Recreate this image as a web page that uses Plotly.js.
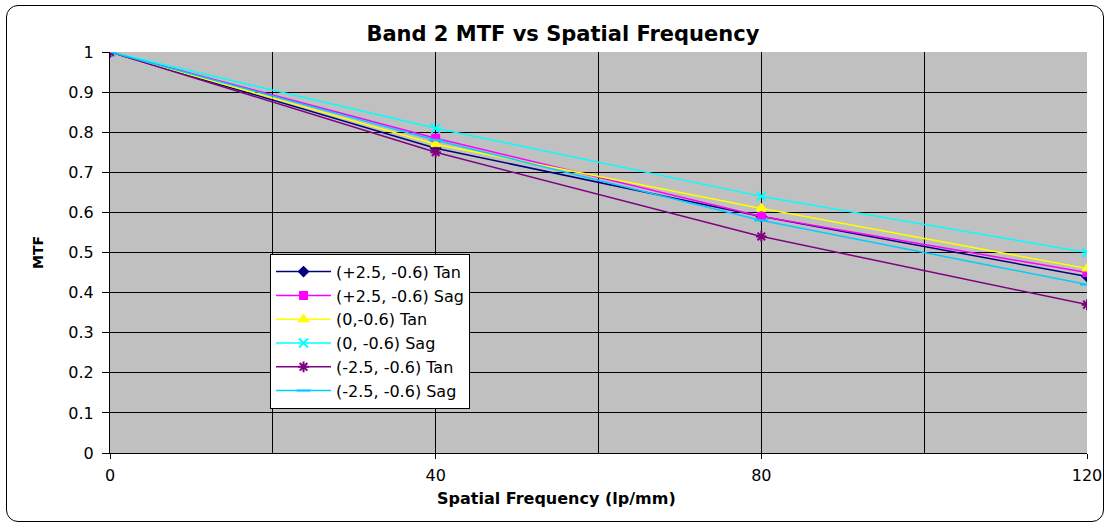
<!DOCTYPE html>
<html>
<head>
<meta charset="utf-8">
<script src="https://cdn.plot.ly/plotly-3.0.1.min.js"></script>
<style>
html,body{margin:0;padding:0;background:#fff;}
#wrap{position:relative;width:1108px;height:527px;}
#frame{position:absolute;left:6px;top:5px;width:1096px;height:515px;border:1px solid #000;border-radius:12px;pointer-events:none;z-index:5;}
#chart{position:absolute;left:0;top:0;width:1108px;height:527px;}
</style>
</head>
<body>
<div id="wrap"><div id="chart"></div><div id="frame"></div></div>
<script>
var freq = [0, 40, 80, 120];
var seriesNames = ["(+2.5, -0.6) Tan", "(+2.5, -0.6) Sag", "(0,-0.6) Tan", "(0, -0.6) Sag", "(-2.5, -0.6) Tan", "(-2.5, -0.6) Sag"];
var tanP25 = [1, 0.76, 0.59, 0.44];
var sagP25 = [1, 0.785, 0.59, 0.45];
var tan0 = [1, 0.77, 0.61, 0.46];
var sag0 = [1, 0.81, 0.64, 0.50];
var tanM25 = [1, 0.75, 0.54, 0.37];
var sagM25 = [1, 0.78, 0.58, 0.42];
var xTicks = [0, 40, 80, 120];
var yTicks = [0, 0.1, 0.2, 0.3, 0.4, 0.5, 0.6, 0.7, 0.8, 0.9, 1];
var xTitle = "Spatial Frequency (lp/mm)";

var values = [tanP25, sagP25, tan0, sag0, tanM25, sagM25];
var colors = ["#000080", "#ff00ff", "#ffff00", "#00ffff", "#800080", "#00ccff"];
var symbols = ["diamond", "square", "triangle-up", "x-thin-open", "asterisk-open", "line-ew-open"];
var sizes = [7, 7, 8, 9, 9, 10];
var traces = values.map(function(v, i){
  return {
    x: freq, y: v, name: seriesNames[i], type: "scatter", mode: "lines+markers",
    line: {color: colors[i], width: 1.5},
    marker: {symbol: symbols[i], color: colors[i], size: sizes[i], line: {color: colors[i], width: 2}}
  };
});

var layout = {
  width: 1108, height: 527,
  margin: {l: 110, r: 21, t: 52, b: 74},
  paper_bgcolor: "rgba(0,0,0,0)",
  plot_bgcolor: "#c0c0c0",
  font: {family: "DejaVu Sans, Arial, sans-serif", size: 16, color: "#000"},
  title: {text: "<b>Band 2 MTF vs Spatial Frequency</b>", x: 0.508, xanchor: "center", y: 0.937, yanchor: "middle", font: {size: 21}},
  showlegend: true,
  legend: {x: 0.1638, y: 0.497, xanchor: "left", yanchor: "top", bgcolor: "#fff", bordercolor: "#000", borderwidth: 1, font: {size: 16}, tracegroupgap: 0, itemwidth: 55},
  annotations: [{
    text: "<b>" + xTitle + "</b>", xref: "paper", yref: "paper", x: 0.4575, y: -0.113,
    xanchor: "center", yanchor: "middle", showarrow: false, font: {size: 16}
  }],
  xaxis: {
    range: [0, 120], tickvals: xTicks, ticktext: xTicks.map(String),
    showgrid: true, gridcolor: "#000", gridwidth: 1,
    minor: {dtick: 20, tick0: 0, showgrid: true, gridcolor: "#000", gridwidth: 1},
    ticks: "outside", ticklen: 5, tickcolor: "#000", ticklabelstandoff: 3,
    showline: true, linecolor: "#000", linewidth: 1, zeroline: false,
    fixedrange: true
  },
  yaxis: {
    range: [0, 1], tickvals: yTicks, ticktext: yTicks.map(String),
    showgrid: true, gridcolor: "#000", gridwidth: 1,
    ticks: "outside", ticklen: 7, tickcolor: "#000", ticklabelstandoff: 5,
    showline: true, linecolor: "#000", linewidth: 1, zeroline: false,
    title: {text: "<b>MTF</b>", font: {size: 14}, standoff: 21},
    fixedrange: true
  }
};
Plotly.newPlot("chart", traces, layout, {displayModeBar: false, staticPlot: true});
</script>
</body>
</html>
